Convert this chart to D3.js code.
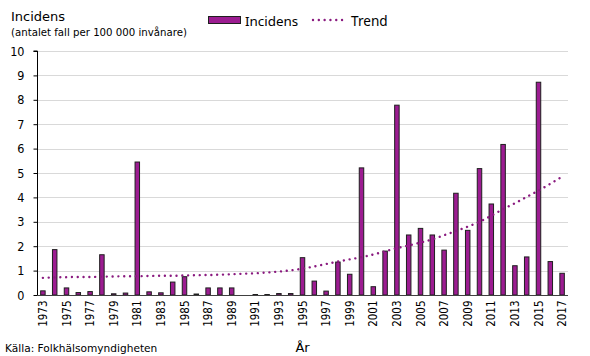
<!DOCTYPE html>
<html>
<head>
<meta charset="utf-8">
<script src="https://cdn.jsdelivr.net/npm/d3@7"></script>
<style>
  html, body { margin: 0; padding: 0; background: #fff; }
  svg { display: block; }
  .tah { font-family: "DejaVu Sans Condensed", "DejaVu Sans", sans-serif; font-stretch: condensed; }
  .ver { font-family: "DejaVu Sans", sans-serif; }
  .seg { font-family: "Noto Sans", "Open Sans", sans-serif; }
</style>
</head>
<body>
<svg id="chart" width="590" height="356"></svg>
<script>
const years = d3.range(1973, 2018).map(String);
const incidens = [
  0.17, 1.86, 0.29, 0.10, 0.14, 1.65, 0.05, 0.08, 5.45, 0.13,
  0.09, 0.53, 0.75, 0.04, 0.29, 0.29, 0.29, 0.00, 0.02, 0.02,
  0.06, 0.06, 1.53, 0.57, 0.16, 1.35, 0.85, 5.21, 0.34, 1.80,
  7.78, 2.46, 2.73, 2.46, 1.84, 4.17, 2.65, 5.18, 3.73, 6.17,
  1.20, 1.56, 8.72, 1.37, 0.89
];
const trend = [
  0.70, 0.72, 0.73, 0.74, 0.74, 0.75, 0.76, 0.77, 0.77, 0.78,
  0.79, 0.79, 0.80, 0.81, 0.82, 0.83, 0.85, 0.87, 0.89, 0.92,
  0.96, 1.01, 1.08, 1.17, 1.27, 1.37, 1.46, 1.55, 1.66, 1.79,
  1.92, 2.03, 2.15, 2.28, 2.45, 2.62, 2.80, 3.00, 3.25, 3.52,
  3.76, 4.02, 4.28, 4.56, 4.85
];
const yTicks = d3.range(0, 11);
const xTickLabels = years.filter((d, i) => i % 2 === 0);

const barFill = "#9c1c91";
const barStroke = "#1f1f1f";
const trendColor = "#8a1a7f";

const svg = d3.select("#chart");
const pLeft = 37, pRight = 568, pTop = 51, pBottom = 295;

const x = d3.scaleBand().domain(years).range([pLeft, pRight]).paddingInner(0.62).paddingOuter(0.31);
const y = d3.scaleLinear().domain([0, 10]).range([pBottom, pTop]);

// gridlines
svg.append("g").selectAll("line").data(yTicks.filter(d => d > 0)).join("line")
  .attr("x1", pLeft).attr("x2", pRight)
  .attr("y1", d => Math.round(y(d)) + 0.5).attr("y2", d => Math.round(y(d)) + 0.5)
  .attr("stroke", "#d9d9d9").attr("stroke-width", 1);

// bars
svg.append("g").selectAll("rect").data(incidens).join("rect")
  .attr("x", (d, i) => x(years[i]))
  .attr("width", x.bandwidth())
  .attr("y", d => y(d))
  .attr("height", d => Math.max(0, pBottom - y(d)))
  .attr("fill", barFill)
  .attr("stroke", d => d > 0 ? barStroke : "none")
  .attr("stroke-width", 1);

// trend
const line = d3.line().x((d, i) => x(years[i]) + x.bandwidth() / 2).y(d => y(d)).curve(d3.curveMonotoneX);
svg.append("path").datum(trend)
  .attr("d", line)
  .attr("fill", "none")
  .attr("stroke", trendColor)
  .attr("stroke-width", 2.4)
  .attr("stroke-linecap", "round")
  .attr("stroke-dasharray", "0.01,5.8");

// y axis
const yAxis = d3.axisLeft(y).tickValues(yTicks).tickSize(4).tickPadding(9).tickFormat(d3.format("d"));
const ya = svg.append("g").attr("transform", `translate(${pLeft + 0.5},0)`).call(yAxis);
ya.select(".domain").attr("stroke", "#000").attr("d", `M-4,${pTop}H0V${pBottom}`);
ya.selectAll(".tick line").attr("stroke", "#000");
ya.selectAll(".tick text").attr("class", "tah").style("font-size", "12.5px").attr("fill", "#000");

// x axis
const xAxis = d3.axisBottom(x).tickValues(xTickLabels).tickSize(0).tickPadding(0);
const xa = svg.append("g").attr("transform", `translate(0,${pBottom + 0.5})`).call(xAxis);
xa.select(".domain").attr("stroke", "#404040").attr("d", `M${pLeft},0H${pRight}`);
xa.selectAll(".tick text")
  .attr("class", "tah")
  .style("font-size", "11.5px")
  .attr("fill", "#000")
  .attr("text-anchor", "end")
  .attr("transform", "translate(0,5) rotate(-90)")
  .attr("x", 0).attr("y", 0).attr("dy", "0.36em");

// titles
svg.append("text").attr("class", "ver").attr("x", 11).attr("y", 21)
  .style("font-size", "13px").text("Incidens");
svg.append("text").attr("class", "ver").attr("x", 11).attr("y", 35.5)
  .style("font-size", "10.2px").text("(antalet fall per 100 000 invånare)");
svg.append("text").attr("class", "ver").attr("x", (pLeft + pRight) / 2).attr("y", 352)
  .attr("text-anchor", "middle").style("font-size", "13px").text("År");
svg.append("text").attr("class", "ver").attr("x", 5).attr("y", 352)
  .style("font-size", "10.6px").text("Källa:  Folkhälsomyndigheten");

// legend
const lg = svg.append("g");
lg.append("rect").attr("x", 208.5).attr("y", 16.5).attr("width", 32).attr("height", 7)
  .attr("fill", barFill).attr("stroke", barStroke).attr("stroke-width", 1);
lg.append("text").attr("class", "seg").attr("x", 245).attr("y", 25.5)
  .style("font-size", "13.4px").text("Incidens");
lg.append("line").attr("x1", 313).attr("x2", 343).attr("y1", 20).attr("y2", 20)
  .attr("stroke", trendColor).attr("stroke-width", 2.4).attr("stroke-linecap", "round")
  .attr("stroke-dasharray", "0.01,5.8");
lg.append("text").attr("class", "seg").attr("x", 351).attr("y", 25.5)
  .style("font-size", "13.6px").text("Trend");
</script>
</body>
</html>
